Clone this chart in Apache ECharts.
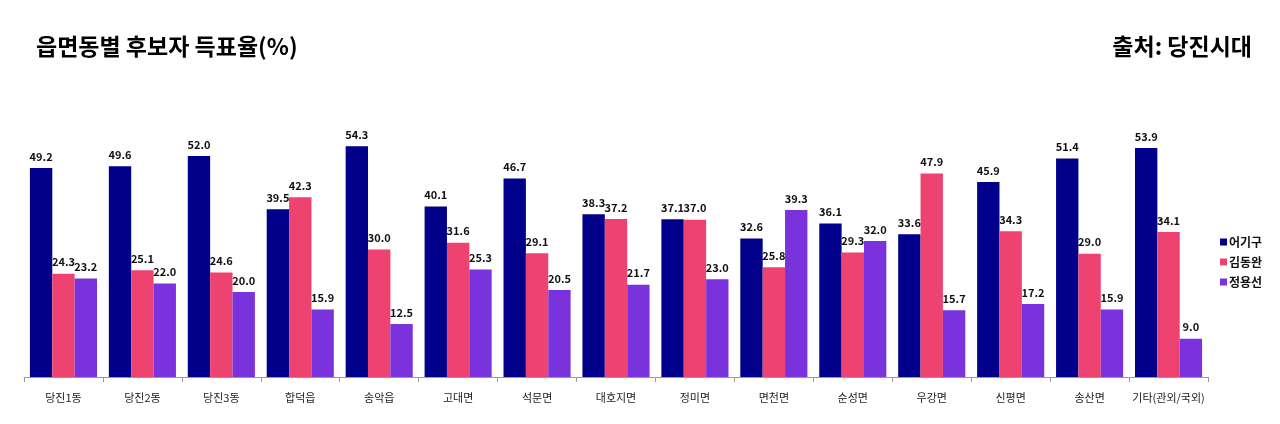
<!DOCTYPE html>
<html><head><meta charset="utf-8">
<script src="https://cdn.jsdelivr.net/npm/echarts@6/dist/echarts.min.js"></script>
<style>html,body{margin:0;padding:0;background:#fff}#c{width:1280px;height:424px}</style>
</head><body><div id="c"></div>
<script>
const categories = ['당진1동','당진2동','당진3동','합덕읍','송악읍','고대면','석문면','대호지면','정미면','면천면','순성면','우강면','신평면','송산면','기타(관외/국외)'];
const seriesNames = ['어기구','김동완','정용선'];
const eoGigu = [49.2,49.6,52.0,39.5,54.3,40.1,46.7,38.3,37.1,32.6,36.1,33.6,45.9,51.4,53.9];
const kimDongwan = [24.3,25.1,24.6,42.3,30.0,31.6,29.1,37.2,37.0,25.8,29.3,47.9,34.3,29.0,34.1];
const jeongYongseon = [23.2,22.0,20.0,15.9,12.5,25.3,20.5,21.7,23.0,39.3,32.0,15.7,17.2,15.9,9.0];
const colors = ['#00008B','#EE4270','#7A33DC'];
const font = '"Noto Sans CJK KR", "Noto Sans", sans-serif';
const chart = echarts.init(document.getElementById('c'));
const mk = (name, data, i) => ({
  name, type: 'bar', data, barGap: '0%', barCategoryGap: '15%',
  itemStyle: { color: colors[i] },
  label: { show: true, position: 'top', distance: 6, formatter: p => p.value.toFixed(1),
    fontFamily: font, fontWeight: 'bold', fontSize: 11, color: '#111' }
});
chart.setOption({
  animation: false,
  textStyle: { fontFamily: font },
  title: [
    { text: '읍면동별 후보자 득표율(%)', left: 31, top: 30,
      textStyle: { fontFamily: font, fontWeight: 'bold', fontSize: 23, color: '#000' } },
    { text: '출처: 당진시대', right: 23, top: 30,
      textStyle: { fontFamily: font, fontWeight: 'bold', fontSize: 23, color: '#000' } }
  ],
  legend: {
    orient: 'vertical', left: 1215, top: 231, itemGap: 8, itemWidth: 7, itemHeight: 7,
    icon: 'rect', data: seriesNames,
    textStyle: { fontFamily: font, fontWeight: 'bold', fontSize: 12, color: '#111', padding: [0,0,0,-3] }
  },
  grid: { left: 24, right: 72, top: 122, bottom: 47, containLabel: false },
  xAxis: {
    type: 'category', data: categories,
    axisLine: { lineStyle: { color: '#999' } },
    axisTick: { show: true, length: 5, lineStyle: { color: '#999' } },
    axisLabel: { margin: 15, fontFamily: font, fontSize: 11, color: '#222', interval: 0 }
  },
  yAxis: { type: 'value', min: 0, max: 60, show: false, splitLine: { show: false } },
  series: [mk(seriesNames[0], eoGigu, 0), mk(seriesNames[1], kimDongwan, 1), mk(seriesNames[2], jeongYongseon, 2)]
});
</script></body></html>
